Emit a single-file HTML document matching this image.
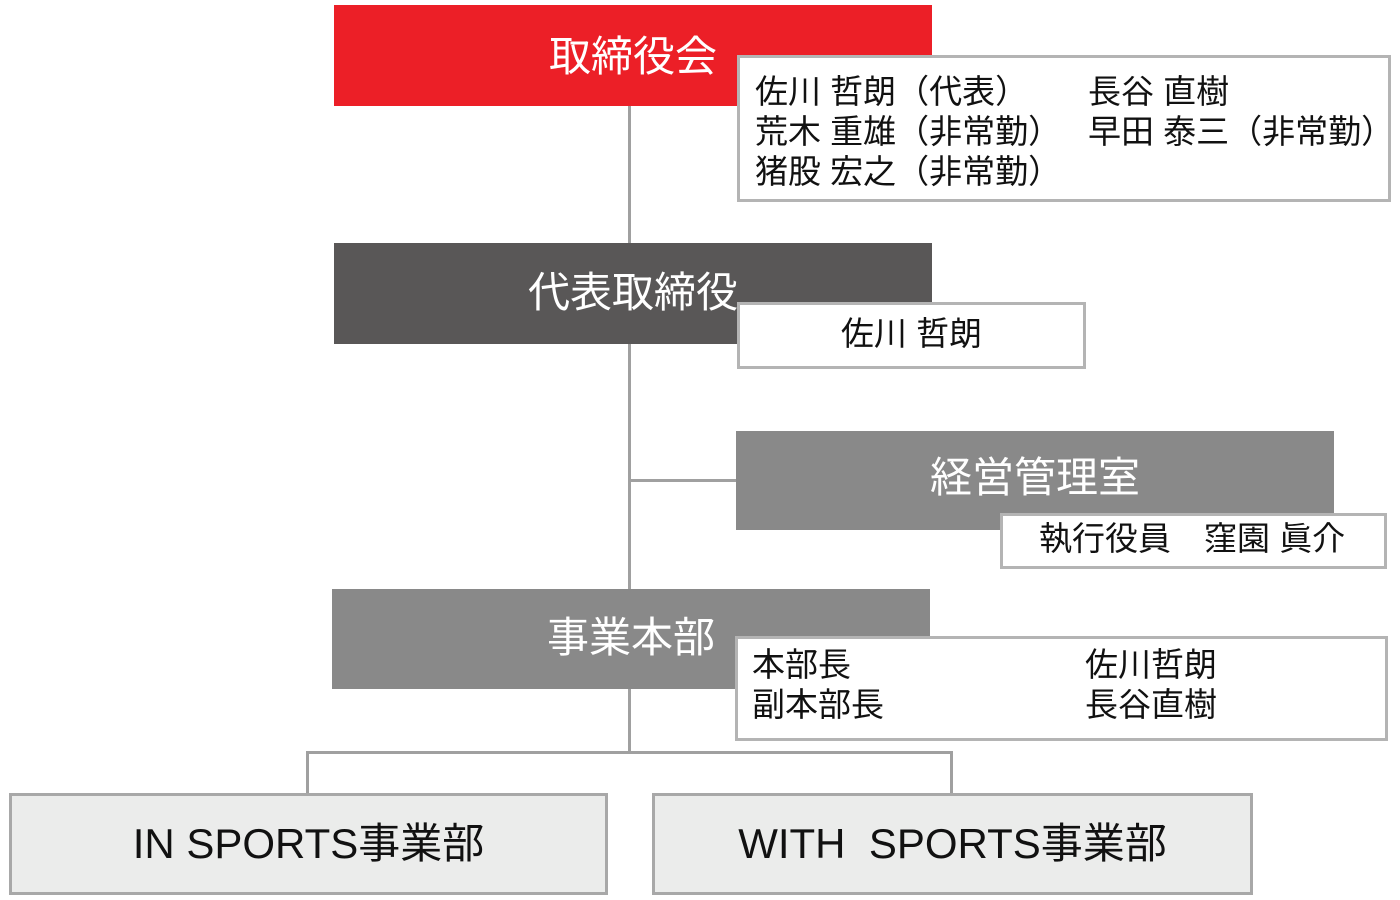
<!DOCTYPE html>
<html><head><meta charset="utf-8"><style>
body{margin:0;width:1400px;height:900px;background:#fff;position:relative;overflow:hidden;font-family:"Liberation Sans","Noto Sans CJK JP",sans-serif}
div{position:absolute;box-sizing:border-box}
.ln{background:#a0a0a0}
.hd{color:#fff;font-size:42px;text-align:center;white-space:nowrap}
.wb{background:#fff;border:3px solid #b4b4b4;color:#111;font-size:33px;white-space:nowrap;line-height:40px}
.t{position:absolute;white-space:nowrap}
.bt{background:#ebeceb;border:3px solid #a8a8a8;font-size:42px;color:#111;text-align:center;line-height:95px}
</style></head><body>
<div class="ln" style="left:628px;top:100px;width:3px;height:653px"></div>
<div class="ln" style="left:629px;top:479px;width:108px;height:3px"></div>
<div class="ln" style="left:306px;top:751px;width:647px;height:3px"></div>
<div class="ln" style="left:306px;top:751px;width:3px;height:44px"></div>
<div class="ln" style="left:950px;top:751px;width:3px;height:44px"></div>

<div class="hd" style="left:334px;top:5px;width:598px;height:101px;background:#ec1f27;line-height:104px">取締役会</div>
<div class="wb" style="left:737px;top:55px;width:654px;height:147px">
<span class="t" style="left:15px;top:14px">佐川 哲朗（代表）</span>
<span class="t" style="left:348px;top:14px">長谷 直樹</span>
<span class="t" style="left:15px;top:54px">荒木 重雄（非常勤）</span>
<span class="t" style="left:348px;top:54px">早田 泰三（非常勤）</span>
<span class="t" style="left:15px;top:94px">猪股 宏之（非常勤）</span>
</div>

<div class="hd" style="left:334px;top:243px;width:598px;height:101px;background:#595757;line-height:100px">代表取締役</div>
<div class="wb" style="left:737px;top:302px;width:349px;height:67px;text-align:center;line-height:58px">佐川 哲朗</div>

<div class="hd" style="left:736px;top:431px;width:598px;height:99px;background:#898989;line-height:94px">経営管理室</div>
<div class="wb" style="left:1000px;top:513px;width:387px;height:56px;line-height:46px;padding-left:36px">執行役員　窪園 眞介</div>

<div class="hd" style="left:332px;top:589px;width:598px;height:100px;background:#898989;line-height:98px">事業本部</div>
<div class="wb" style="left:735px;top:636px;width:653px;height:105px">
<span class="t" style="left:14px;top:6px">本部長</span>
<span class="t" style="left:347px;top:6px">佐川哲朗</span>
<span class="t" style="left:14px;top:46px">副本部長</span>
<span class="t" style="left:347px;top:46px">長谷直樹</span>
</div>

<div class="bt" style="left:9px;top:793px;width:599px;height:102px">IN SPORTS事業部</div>
<div class="bt" style="left:652px;top:793px;width:601px;height:102px">WITH &nbsp;SPORTS事業部</div>
</body></html>
